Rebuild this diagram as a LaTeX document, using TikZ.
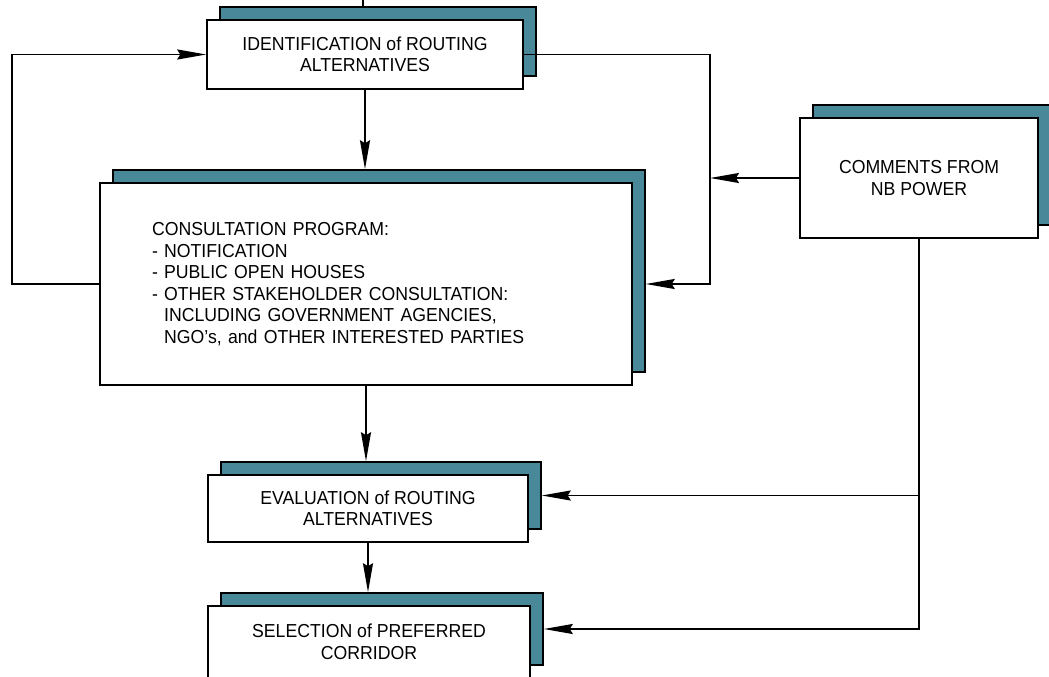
\documentclass[tikz,border=0pt]{standalone}
\usepackage{fontspec}
\setmainfont[FakeStretch=0.94]{Liberation Sans}
\usetikzlibrary{arrows.meta,shadows,calc}
\definecolor{shadowc}{RGB}{72,136,152}
\begin{document}
\begin{tikzpicture}[x=1pt,y=-1pt,
  box/.style={draw=black, line width=1.5pt, fill=white, inner sep=0pt, align=center,
    font=\fontsize{18.8}{21.5}\selectfont,
    copy shadow={shadow xshift=13pt, shadow yshift=13pt, fill=shadowc, draw=black, line width=1.5pt}},
  conn/.style={line width=1.9pt},
  arr/.style={conn, -{Stealth[length=29pt,width=10pt,inset=3pt]}}]
\useasboundingbox (0,0) rectangle (1049,677);
\node[box, minimum width=316pt, minimum height=69pt] (id) at (365,54.5) {IDENTIFICATION of ROUTING\\ALTERNATIVES};
\node[box, minimum width=238pt, minimum height=120pt] (com) at (919,178) {COMMENTS FROM\\NB POWER};
\node[box, minimum width=532pt, minimum height=202pt, text width=428pt, align=left] (con) at (366,284)
  {CONSULTATION PROGRAM:\\
   - NOTIFICATION\\
   - PUBLIC OPEN HOUSES\\
   - OTHER STAKEHOLDER CONSULTATION:\\
   \phantom{- }INCLUDING GOVERNMENT AGENCIES,\\
   \phantom{- }NGO's, and OTHER INTERESTED PARTIES};
\node[box, minimum width=320pt, minimum height=67pt] (ev) at (368,508.5) {EVALUATION of ROUTING\\ALTERNATIVES};
\node[box, minimum width=322pt, minimum height=72pt] (sel) at (369,642) {SELECTION of PREFERRED\\CORRIDOR};
\coordinate (tp) at (363,0);
\coordinate (L) at (12,0);
\coordinate (R) at (710,0);
\coordinate (evsh) at ($(ev.east)+(13,-13)$);
\coordinate (selsh) at ($(sel.east)+(13,-13)$);
\draw[conn] (tp) -- ($(tp |- id.north)+(0,-13)$);
\draw[arr] (id.south) -- ($(id.south |- con.north)+(0,-13)$);
\draw[arr] (con.south) -- ($(con.south |- ev.north)+(0,-13)$);
\draw[arr] (ev.south) -- ($(ev.south |- sel.north)+(0,-13)$);
\draw[arr] (con.west) -- (con.west -| L) |- (id.west);
\draw[arr] (id.east) -| (R |- con.east) -- ($(con.east)+(13,0)$);
\draw[arr] (com.west) -- (com.west -| R);
\draw[arr] (com.south) |- (selsh);
\draw[arr] (com.south |- evsh) -- (evsh);
\end{tikzpicture}
\end{document}
